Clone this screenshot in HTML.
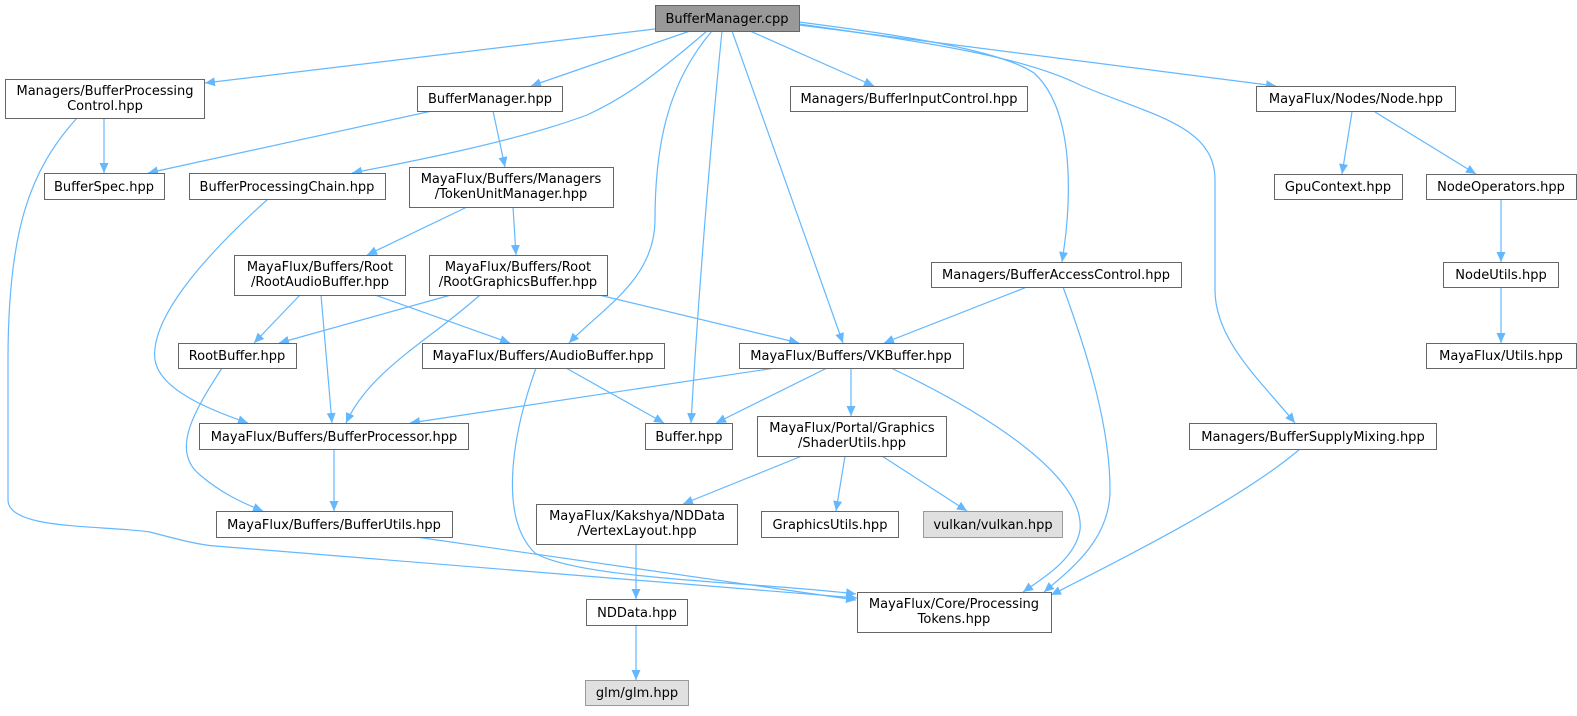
<!DOCTYPE html>
<html><head><meta charset="utf-8"><style>
html,body{margin:0;padding:0;background:#fff;}
svg text{font-family:"DejaVu Sans","Liberation Sans",sans-serif;font-size:13px;fill:#000;text-anchor:middle;}
</style></head><body>
<svg width="1577" height="711" viewBox="0 0 1577 711" xmlns="http://www.w3.org/2000/svg">
<defs>
<marker id="a" markerWidth="11" markerHeight="9" refX="10" refY="4.5" orient="auto" markerUnits="userSpaceOnUse">
<path d="M0,0 L10,4.5 L0,9 z" fill="#63b8ff"/>
</marker>
</defs>
<g fill="none" stroke="#63b8ff" stroke-width="1.2" marker-end="url(#a)">
<path d="M655,29 L205,83"/>
<path d="M690,31 L531,86"/>
<path d="M707,31 C650,80 620,100 587,115 C520,140 420,160 352,173"/>
<path d="M712,31 C670,80 655,140 655,220 C655,280 600,310 569,343"/>
<path d="M722,31 C710,150 698,300 691,423"/>
<path d="M732,31 L843,343"/>
<path d="M750,31 L874,86"/>
<path d="M799,22 C900,35 1000,50 1034,73 C1075,110 1072,200 1062,262"/>
<path d="M799,24 C950,45 1030,60 1080,85 C1150,115 1215,125 1215,180 L1215,290 C1215,340 1260,380 1295,423"/>
<path d="M799,25 L1276,86"/>
<path d="M104,118 L104,173"/>
<path d="M77,118 C30,170 8,230 8,360 L8,500 C8,530 100,525 150,532 C180,540 200,545 215,546 L857,598"/>
<path d="M432,111 L148,173"/>
<path d="M493,111 L505,167"/>
<path d="M467,207 L367,255"/>
<path d="M513,207 L516,255"/>
<path d="M268,199 C200,260 150,320 155,360 C160,390 210,410 248,423"/>
<path d="M300,295 L254,343"/>
<path d="M321,295 L332,423"/>
<path d="M375,295 L510,343"/>
<path d="M451,295 L279,343"/>
<path d="M480,295 C430,340 370,370 346,423"/>
<path d="M599,295 L799,343"/>
<path d="M1027,287 L884,343"/>
<path d="M1063,287 C1090,360 1110,430 1110,490 C1110,540 1070,570 1044,592"/>
<path d="M891,368 C1000,420 1085,480 1080,530 C1075,560 1040,580 1023,592"/>
<path d="M1300,449 C1240,500 1120,560 1051,595"/>
<path d="M222,368 C195,410 170,450 200,475 C220,492 240,502 263,511"/>
<path d="M566,368 L664,423"/>
<path d="M536,368 C510,440 500,520 535,553 C580,580 760,582 856,594"/>
<path d="M775,368 L410,423"/>
<path d="M827,368 L716,423"/>
<path d="M851,368 L851,416"/>
<path d="M334,449 L334,511"/>
<path d="M416,537 L856,600"/>
<path d="M802,456 L683,504"/>
<path d="M845,456 L836,511"/>
<path d="M882,456 L967,511"/>
<path d="M636,544 L636,599"/>
<path d="M636,625 L636,680"/>
<path d="M1352,112 L1342,174"/>
<path d="M1375,112 L1476,174"/>
<path d="M1501,199 L1501,262"/>
<path d="M1501,287 L1501,343"/>
</g>
<g stroke="#666" stroke-width="1" fill="#fff">
<rect x="655.5" y="5.5" width="144" height="26" fill="#999"/>
<rect x="5.5" y="79.5" width="199" height="39"/>
<rect x="417.5" y="86.5" width="145" height="25"/>
<rect x="790.5" y="86.5" width="237" height="25"/>
<rect x="1256.5" y="86.5" width="199" height="25"/>
<rect x="44.5" y="173.5" width="120" height="26"/>
<rect x="189.5" y="173.5" width="196" height="26"/>
<rect x="409.5" y="167.5" width="204" height="40"/>
<rect x="1274.5" y="174.5" width="128" height="25"/>
<rect x="1426.5" y="174.5" width="150" height="25"/>
<rect x="234.5" y="255.5" width="171" height="40"/>
<rect x="429.5" y="255.5" width="178" height="40"/>
<rect x="931.5" y="262.5" width="250" height="25"/>
<rect x="1443.5" y="262.5" width="115" height="25"/>
<rect x="178.5" y="343.5" width="118" height="25"/>
<rect x="422.5" y="343.5" width="242" height="25"/>
<rect x="739.5" y="343.5" width="224" height="25"/>
<rect x="1426.5" y="343.5" width="150" height="25"/>
<rect x="199.5" y="423.5" width="269" height="26"/>
<rect x="645.5" y="423.5" width="87" height="26"/>
<rect x="757.5" y="416.5" width="189" height="40"/>
<rect x="1189.5" y="423.5" width="247" height="26"/>
<rect x="216.5" y="511.5" width="236" height="26"/>
<rect x="536.5" y="504.5" width="201" height="40"/>
<rect x="761.5" y="511.5" width="137" height="26"/>
<rect x="923.5" y="511.5" width="139" height="26" fill="#e0e0e0" stroke="#999"/>
<rect x="857.5" y="592.5" width="194" height="40"/>
<rect x="586.5" y="599.5" width="101" height="26"/>
<rect x="585.5" y="680.5" width="103" height="25" fill="#e0e0e0" stroke="#999"/>
</g>
<g>
<text x="727" y="23">BufferManager.cpp</text>
<text x="105" y="95">Managers/BufferProcessing</text>
<text x="105" y="110">Control.hpp</text>
<text x="490" y="103">BufferManager.hpp</text>
<text x="909" y="103">Managers/BufferInputControl.hpp</text>
<text x="1356" y="103">MayaFlux/Nodes/Node.hpp</text>
<text x="104" y="191">BufferSpec.hpp</text>
<text x="287" y="191">BufferProcessingChain.hpp</text>
<text x="511" y="183">MayaFlux/Buffers/Managers</text>
<text x="511" y="198">/TokenUnitManager.hpp</text>
<text x="1338" y="191">GpuContext.hpp</text>
<text x="1501" y="191">NodeOperators.hpp</text>
<text x="320" y="271">MayaFlux/Buffers/Root</text>
<text x="320" y="286">/RootAudioBuffer.hpp</text>
<text x="518" y="271">MayaFlux/Buffers/Root</text>
<text x="518" y="286">/RootGraphicsBuffer.hpp</text>
<text x="1056" y="279">Managers/BufferAccessControl.hpp</text>
<text x="1501" y="279">NodeUtils.hpp</text>
<text x="237" y="360">RootBuffer.hpp</text>
<text x="543" y="360">MayaFlux/Buffers/AudioBuffer.hpp</text>
<text x="851" y="360">MayaFlux/Buffers/VKBuffer.hpp</text>
<text x="1501" y="360">MayaFlux/Utils.hpp</text>
<text x="334" y="441">MayaFlux/Buffers/BufferProcessor.hpp</text>
<text x="689" y="441">Buffer.hpp</text>
<text x="852" y="432">MayaFlux/Portal/Graphics</text>
<text x="852" y="447">/ShaderUtils.hpp</text>
<text x="1313" y="441">Managers/BufferSupplyMixing.hpp</text>
<text x="334" y="529">MayaFlux/Buffers/BufferUtils.hpp</text>
<text x="637" y="520">MayaFlux/Kakshya/NDData</text>
<text x="637" y="535">/VertexLayout.hpp</text>
<text x="830" y="529">GraphicsUtils.hpp</text>
<text x="993" y="529">vulkan/vulkan.hpp</text>
<text x="954" y="608">MayaFlux/Core/Processing</text>
<text x="954" y="623">Tokens.hpp</text>
<text x="637" y="617">NDData.hpp</text>
<text x="637" y="697">glm/glm.hpp</text>
</g>
</svg>
</body></html>
